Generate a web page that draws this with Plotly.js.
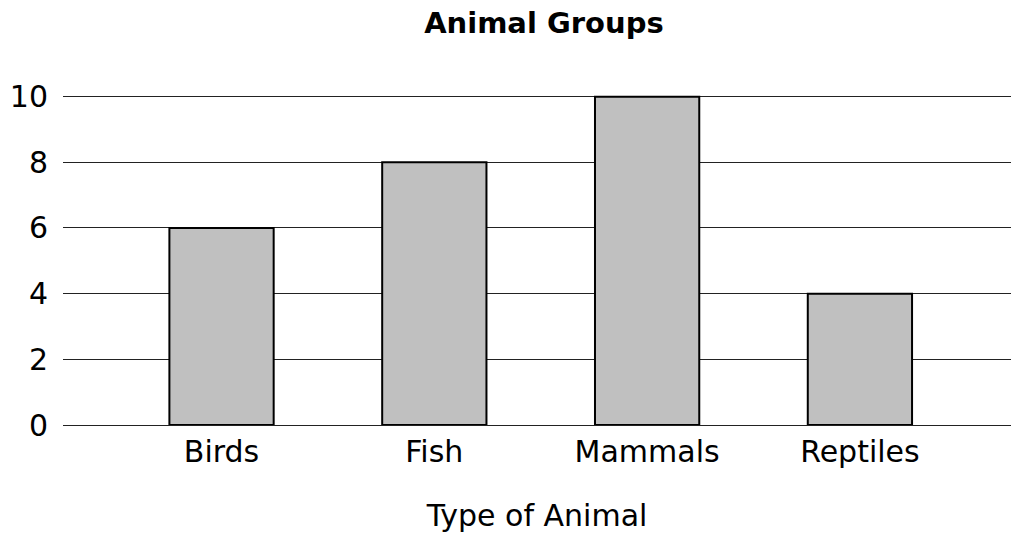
<!DOCTYPE html>
<html><head><meta charset="utf-8">
<script src="https://cdn.plot.ly/plotly-3.0.1.min.js"></script>
<style>html,body{margin:0;padding:0;background:#fff}</style>
</head><body>
<div id="chart" style="width:1011px;height:535px"></div>
<script>
const categories = ["Birds", "Fish", "Mammals", "Reptiles"];
const counts = [6, 8, 10, 4];
const yTicks = [0, 2, 4, 6, 8, 10];

const font = "DejaVu Sans, Verdana, sans-serif";
Plotly.newPlot("chart", [{
  type: "bar",
  x: categories,
  y: counts,
  width: 0.49,
  marker: {color: "#c0c0c0", line: {color: "#000", width: 2}},
  hoverinfo: "none"
}], {
  width: 1011, height: 535,
  margin: {l: 63, r: 0, t: 95, b: 110},
  paper_bgcolor: "#fff", plot_bgcolor: "#fff",
  showlegend: false,
  title: {text: "<b>Animal Groups</b>", font: {family: font, size: 29, color: "#000"}, x: 0.538, xanchor: "center", y: 0.958, yanchor: "middle"},
  xaxis: {
    range: [-0.745, 3.71], showgrid: false, zeroline: false, showline: false,
    tickfont: {family: font, size: 30, color: "#000"}, ticks: "", ticklen: 0, ticklabelstandoff: 6,
    title: {text: "Type of Animal", font: {family: font, size: 30, color: "#000"}, standoff: 36}
  },
  yaxis: {
    range: [0, 10.05], tickvals: yTicks, ticktext: yTicks.map(String),
    showgrid: true, gridcolor: "#222", gridwidth: 1, zeroline: true, zerolinecolor: "#222", zerolinewidth: 1,
    showline: false, ticks: "", ticklabelstandoff: 14,
    tickfont: {family: font, size: 30, color: "#000"}
  }
}, {displayModeBar: false, staticPlot: true});
</script>
</body></html>
